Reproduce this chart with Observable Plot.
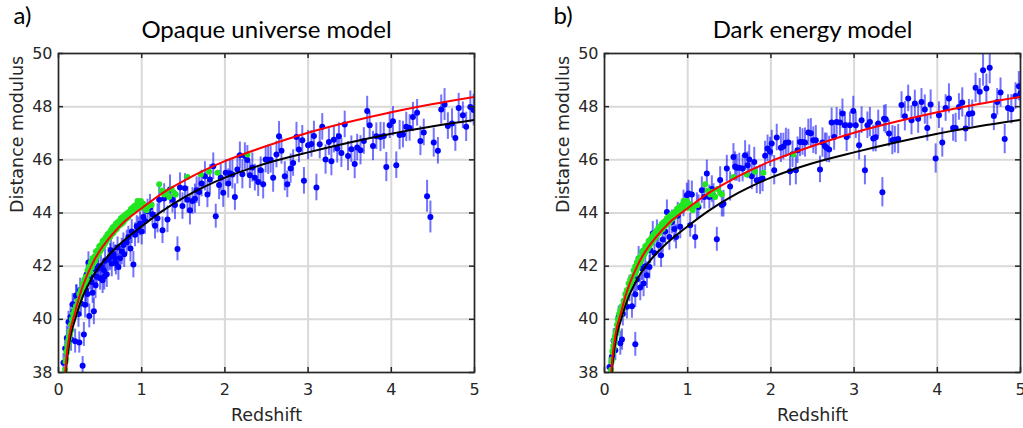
<!DOCTYPE html>
<html><head><meta charset="utf-8">
<script src="https://cdn.jsdelivr.net/npm/d3@7"></script>
<script src="https://cdn.jsdelivr.net/npm/@observablehq/plot@0.6"></script>
<style>
body{margin:0;background:#fff;}
#wrap{position:relative;width:1023px;height:428px;overflow:hidden;background:#fff;}
#pa,#pb{position:absolute;top:0;}
#pa{left:0px}
#pb{left:546px}
</style></head><body><div id="wrap"><div id="pa"></div><div id="pb"></div></div>
<script>
const xTicks = [0, 1, 2, 3, 4, 5];
const yTicks = [38, 40, 42, 44, 46, 48, 50];
const titles = ["Opaque universe model", "Dark energy model"];
const letters = ["a)", "b)"];
const xLabel = "Redshift";
const yLabel = "Distance modulus";

// model curves: [z, mu]
const redCurve = [[0.082,38.0],[0.1,38.7],[0.12,39.15],[0.15,39.7],[0.2,40.27],[0.25,40.85],[0.3,41.32],[0.4,42.05],[0.5,42.6],[0.6,43.02],[0.7,43.38],[0.8,43.7],[1.0,44.18],[1.25,44.75],[1.5,45.2],[1.75,45.6],[2.0,45.95],[2.5,46.52],[3.0,47.02],[3.5,47.43],[4.0,47.79],[4.5,48.1],[5.0,48.37]];
const blackCurve = [[0.09,38.0],[0.1,38.4],[0.12,38.9],[0.15,39.45],[0.2,40.0],[0.25,40.5],[0.3,40.92],[0.4,41.55],[0.5,42.02],[0.6,42.4],[0.7,42.72],[0.8,43.0],[1.0,43.5],[1.25,44.08],[1.5,44.57],[1.75,44.98],[2.0,45.33],[2.5,45.87],[3.0,46.28],[3.5,46.65],[4.0,46.98],[4.5,47.26],[5.0,47.5]];

// supernovae (green): [z, mu]
const green = [[0.08,38.1],[0.085,38.4],[0.09,38.5],[0.095,38.8],[0.10,38.75],[0.105,39.0],[0.11,38.9],[0.115,39.2],[0.12,39.1],[0.125,39.35],[0.13,39.3],[0.135,39.55],[0.14,39.45],[0.15,39.8],[0.155,39.6],[0.16,40.0],[0.17,39.95],[0.175,40.2],[0.18,40.05],[0.19,40.35],[0.2,40.2],[0.21,40.5],[0.22,40.4],[0.23,40.7],[0.24,40.6],[0.25,40.95],[0.26,40.8],[0.27,41.1],[0.28,41.0],[0.29,41.35],[0.30,41.2],[0.31,41.5],[0.32,41.35],[0.33,41.6],[0.34,41.5],[0.35,41.85],[0.36,41.7],[0.37,42.0],[0.38,41.8],[0.39,42.15],[0.40,41.95],[0.41,42.3],[0.42,42.1],[0.43,42.35],[0.44,42.2],[0.45,42.55],[0.46,42.35],[0.47,42.6],[0.48,42.45],[0.49,42.75],[0.50,42.55],[0.51,42.8],[0.52,42.65],[0.53,42.95],[0.54,42.75],[0.55,43.0],[0.56,42.85],[0.57,43.1],[0.58,42.95],[0.59,43.2],[0.60,43.05],[0.61,43.25],[0.62,43.1],[0.63,43.35],[0.64,43.2],[0.65,43.45],[0.66,43.25],[0.67,43.5],[0.68,43.35],[0.69,43.6],[0.70,43.4],[0.71,43.65],[0.72,43.5],[0.73,43.7],[0.74,43.55],[0.75,43.8],[0.76,43.6],[0.77,43.85],[0.78,43.65],[0.79,43.9],[0.80,43.75],[0.81,43.95],[0.82,43.8],[0.83,44.0],[0.84,43.85],[0.85,44.05],[0.86,43.95],[0.87,44.15],[0.88,44.0],[0.89,44.2],[0.90,44.05],[0.91,44.25],[0.92,44.15],[0.93,44.3],[0.94,44.2],[0.95,44.45],[0.96,44.25],[0.97,44.4],[0.98,44.3],[0.99,44.45],[1.0,44.2],[1.02,44.35],[1.04,44.2],[1.06,44.1],[1.08,44.25],[1.12,44.3],[1.21,45.08],[1.24,44.85],[1.27,44.7],[1.30,44.8],[1.33,44.6],[1.36,44.9],[1.39,44.75],[1.41,44.7],[1.55,45.35],[1.71,45.45],[1.81,45.55],[1.91,45.51],[2.27,46.2]];

// quasars / GRBs (blue) panel a: [z, mu, error]
const blueA = [[0.06,38.37,0.35],[0.08,38.9,0.4],[0.10,39.3,0.45],[0.12,39.9,0.4],[0.144,40.09,0.5],[0.15,39.25,0.45],[0.17,40.57,0.4],[0.18,40.3,0.5],[0.20,39.18,0.45],[0.21,40.9,0.4],[0.22,40.84,0.45],[0.24,40.2,0.5],[0.25,39.13,0.4],[0.26,41.1,0.45],[0.27,40.6,0.5],[0.29,38.25,0.35],[0.305,39.43,0.45],[0.31,41.3,0.4],[0.32,40.55,0.5],[0.33,41.1,0.45],[0.34,41.7,0.4],[0.35,40.95,0.5],[0.36,42.14,0.4],[0.37,40.13,0.45],[0.38,41.6,0.5],[0.40,41.4,0.45],[0.41,41.0,0.4],[0.425,40.30,0.5],[0.43,41.9,0.45],[0.445,41.28,0.5],[0.46,41.6,0.45],[0.47,41.9,0.4],[0.48,42.0,0.5],[0.50,41.55,0.45],[0.51,42.0,0.4],[0.53,41.47,0.5],[0.545,41.85,0.45],[0.55,41.6,0.5],[0.56,42.2,0.45],[0.58,41.7,0.5],[0.60,42.25,0.45],[0.62,42.35,0.5],[0.63,42.6,0.4],[0.64,42.1,0.5],[0.66,42.45,0.45],[0.68,42.3,0.5],[0.69,42.12,0.45],[0.71,42.7,0.4],[0.72,41.97,0.5],[0.74,42.3,0.45],[0.76,42.55,0.5],[0.78,42.8,0.45],[0.79,42.45,0.5],[0.82,42.9,0.45],[0.84,43.1,0.4],[0.865,42.66,0.5],[0.88,43.3,0.45],[0.90,42.06,0.5],[0.92,43.18,0.45],[0.94,43.5,0.4],[0.96,43.35,0.5],[0.98,43.6,0.45],[1.0,43.3,0.5],[1.02,43.85,0.45],[1.04,43.7,0.5],[1.07,44.07,0.45],[1.10,44.2,0.5],[1.13,43.95,0.45],[1.16,43.52,0.5],[1.19,43.8,0.55],[1.21,44.5,0.5],[1.25,43.35,0.5],[1.27,44.55,0.55],[1.31,43.76,0.5],[1.34,44.88,0.55],[1.37,44.5,0.5],[1.40,44.3,0.55],[1.43,42.65,0.45],[1.46,44.96,0.55],[1.49,44.26,0.5],[1.52,44.93,0.55],[1.55,44.5,0.5],[1.58,44.1,0.55],[1.61,44.45,0.5],[1.64,44.54,0.55],[1.66,44.86,0.5],[1.69,44.79,0.55],[1.72,45.11,0.5],[1.76,45.38,0.55],[1.79,44.70,0.5],[1.82,45.26,0.55],[1.86,45.76,0.5],[1.89,43.88,0.45],[1.93,45.05,0.55],[1.95,45.33,0.5],[1.98,44.76,0.55],[2.01,45.51,0.5],[2.04,45.11,0.55],[2.06,45.5,0.5],[2.09,45.45,0.55],[2.12,44.60,0.5],[2.15,45.64,0.55],[2.18,46.17,0.5],[2.21,45.46,0.55],[2.24,46.14,0.5],[2.27,45.99,0.55],[2.30,45.42,0.5],[2.33,45.71,0.55],[2.36,45.33,0.5],[2.40,45.17,0.55],[2.43,45.61,0.5],[2.46,45.08,0.55],[2.49,46.01,0.5],[2.52,46.0,0.55],[2.55,46.0,0.5],[2.58,45.33,0.55],[2.62,46.20,0.5],[2.65,46.89,0.55],[2.68,46.34,0.5],[2.72,45.38,0.55],[2.75,45.08,0.5],[2.79,45.67,0.55],[2.82,45.88,0.5],[2.86,46.86,0.55],[2.89,46.39,0.5],[2.93,46.74,0.55],[2.95,45.21,0.5],[3.00,46.55,0.55],[3.04,46.6,0.5],[3.07,46.9,0.55],[3.10,44.96,0.5],[3.14,46.59,0.55],[3.17,47.24,0.5],[3.21,46.01,0.55],[3.25,46.67,0.5],[3.28,45.95,0.55],[3.31,46.76,0.5],[3.35,46.43,0.55],[3.37,46.89,0.5],[3.40,46.26,0.55],[3.44,47.33,0.5],[3.48,46.14,0.55],[3.52,46.40,0.5],[3.56,45.84,0.55],[3.59,46.46,0.5],[3.63,46.36,0.55],[3.67,46.71,0.5],[3.71,47.84,0.55],[3.74,47.30,0.5],[3.78,46.52,0.55],[3.82,46.89,0.5],[3.87,46.86,0.55],[3.91,46.90,0.5],[3.94,45.73,0.55],[3.98,47.30,0.5],[4.02,47.45,0.55],[4.06,45.80,0.5],[4.10,46.93,0.55],[4.14,46.95,0.5],[4.18,47.24,0.55],[4.22,47.2,0.5],[4.26,47.61,0.55],[4.31,47.77,0.5],[4.35,46.71,0.55],[4.39,47.03,0.5],[4.43,44.63,0.6],[4.47,43.85,0.6],[4.51,46.65,0.55],[4.56,46.34,0.5],[4.60,47.89,0.55],[4.64,48.08,0.6],[4.68,47.27,0.5],[4.73,47.37,0.55],[4.77,46.82,0.5],[4.81,47.95,0.55],[4.86,47.68,0.5],[4.90,47.24,0.55],[4.95,47.99,0.6],[4.99,47.87,0.6]];

// quasars / GRBs (blue) panel b: [z, mu, error]
const blueB = [[0.06,38.21,0.35],[0.09,38.6,0.4],[0.11,39.2,0.45],[0.13,38.84,0.4],[0.15,39.6,0.45],[0.17,40.1,0.4],[0.19,39.1,0.45],[0.21,39.24,0.4],[0.22,40.2,0.45],[0.24,40.6,0.4],[0.27,40.47,0.45],[0.30,41.16,0.5],[0.33,40.49,0.45],[0.35,41.4,0.4],[0.37,39.06,0.45],[0.37,40.94,0.5],[0.39,41.5,0.45],[0.41,42.29,0.45],[0.43,41.2,0.5],[0.45,41.91,0.45],[0.47,41.35,0.5],[0.49,42.0,0.45],[0.51,41.66,0.5],[0.54,41.97,0.45],[0.55,42.6,0.5],[0.58,43.23,0.45],[0.60,42.5,0.5],[0.63,43.29,0.45],[0.65,42.8,0.5],[0.68,42.41,0.45],[0.70,43.0,0.5],[0.73,43.3,0.45],[0.75,44.04,0.45],[0.78,43.1,0.5],[0.81,43.66,0.45],[0.84,43.4,0.5],[0.86,43.1,0.45],[0.88,43.9,0.5],[0.91,43.48,0.45],[0.95,44.36,0.5],[0.99,44.67,0.45],[1.01,44.73,0.5],[1.03,43.54,0.45],[1.05,44.7,0.5],[1.09,43.10,0.45],[1.11,44.26,0.5],[1.13,44.23,0.45],[1.17,44.86,0.5],[1.20,44.6,0.45],[1.23,45.49,0.5],[1.26,44.6,0.45],[1.29,44.9,0.5],[1.31,44.65,0.45],[1.35,43.01,0.45],[1.39,45.24,0.5],[1.41,44.3,0.45],[1.43,44.35,0.5],[1.47,45.67,0.5],[1.51,45.0,0.55],[1.55,46.11,0.5],[1.57,45.75,0.55],[1.59,45.7,0.5],[1.62,45.7,0.55],[1.66,45.67,0.5],[1.69,46.17,0.55],[1.72,45.8,0.5],[1.74,46.01,0.55],[1.77,45.38,0.5],[1.80,45.92,0.55],[1.83,45.23,0.5],[1.87,45.25,0.55],[1.90,45.3,0.5],[1.93,46.15,0.55],[1.96,46.43,0.5],[1.99,46.30,0.55],[2.01,46.61,0.5],[2.04,45.61,0.55],[2.07,46.84,0.5],[2.12,46.45,0.55],[2.15,46.5,0.5],[2.18,46.64,0.55],[2.21,46.65,0.5],[2.23,45.57,0.55],[2.26,46.21,0.5],[2.30,45.61,0.55],[2.32,46.36,0.5],[2.35,46.67,0.55],[2.38,46.67,0.5],[2.41,46.65,0.55],[2.45,47.03,0.5],[2.48,47.0,0.55],[2.51,46.74,0.5],[2.54,46.74,0.55],[2.59,45.64,0.5],[2.62,46.65,0.55],[2.65,46.51,0.5],[2.67,46.45,0.55],[2.70,46.39,0.5],[2.73,47.40,0.55],[2.76,46.86,0.5],[2.79,47.42,0.55],[2.83,47.4,0.5],[2.86,47.74,0.55],[2.89,47.3,0.5],[2.91,46.86,0.55],[2.95,47.30,0.5],[2.99,47.84,0.55],[3.02,47.3,0.5],[3.06,46.55,0.55],[3.09,47.49,0.5],[3.13,45.61,0.55],[3.16,47.30,0.5],[3.19,47.42,0.55],[3.23,46.80,0.5],[3.26,46.85,0.55],[3.29,47.37,0.5],[3.34,44.78,0.55],[3.36,47.55,0.5],[3.38,47.53,0.55],[3.42,46.99,0.5],[3.46,46.74,0.55],[3.49,46.76,0.5],[3.53,46.78,0.55],[3.57,48.06,0.5],[3.61,47.64,0.55],[3.65,48.31,0.5],[3.69,47.49,0.55],[3.73,48.12,0.5],[3.77,47.55,0.55],[3.81,48.18,0.5],[3.85,47.89,0.55],[3.88,47.20,0.5],[3.92,48.08,0.55],[3.98,46.05,0.55],[4.02,47.68,0.5],[4.06,46.65,0.55],[4.10,47.95,0.5],[4.14,48.31,0.55],[4.19,47.20,0.5],[4.22,47.2,0.55],[4.26,47.99,0.5],[4.30,48.16,0.55],[4.34,47.18,0.5],[4.38,47.72,0.55],[4.42,47.75,0.5],[4.46,48.71,0.55],[4.51,48.56,0.5],[4.55,49.37,0.6],[4.59,48.68,0.55],[4.63,49.46,0.6],[4.68,47.65,0.55],[4.72,48.18,0.5],[4.76,48.53,0.55],[4.81,46.78,0.55],[4.85,47.95,0.5],[4.89,47.90,0.55],[4.94,48.40,0.5],[4.98,48.77,0.55],[5.0,48.5,0.5]];

const INK = "#262626";
const AXFONT = "'DejaVu Sans', Verdana, sans-serif";
function panel(i, blue, width, marginRight, letterDx) {
  const mL = 58, mT = 53, mB = 56, H = 428;
  const fw = width - mL - marginRight, fh = H - mT - mB;
  return Plot.plot({
    width, height: H, marginLeft: mL, marginRight, marginTop: mT, marginBottom: mB,
    x: {domain: [0, 5], ticks: xTicks, tickFormat: d => String(d), tickSize: 0, tickPadding: 11, label: null},
    y: {domain: [38, 50], ticks: yTicks, tickFormat: d => String(d), tickSize: 0, tickPadding: 6, label: null},
    style: {fontFamily: AXFONT, fontSize: "16px", color: INK, background: "white", overflow: "visible"},
    marks: [
      Plot.gridX(xTicks, {stroke: "#d9d9d9", strokeOpacity: 1, strokeWidth: 2}),
      Plot.gridY(yTicks, {stroke: "#d9d9d9", strokeOpacity: 1, strokeWidth: 2}),
      Plot.ruleX(blue, {x: d => d[0], y1: d => d[1] - d[2], y2: d => d[1] + d[2], stroke: "#0000ff", strokeOpacity: 0.55, strokeWidth: 2, clip: true}),
      Plot.dot(blue, {x: d => d[0], y: d => d[1], r: 3, fill: "#0000ff", clip: true}),
      Plot.dot(green, {x: d => d[0], y: d => d[1], r: 3, fill: "#22e622", clip: true}),
      Plot.line(blackCurve, {x: d => d[0], y: d => d[1], stroke: "#000", strokeWidth: 2, curve: "catmull-rom", clip: true}),
      Plot.line(redCurve, {x: d => d[0], y: d => d[1], stroke: "#ff0000", strokeWidth: 2, curve: "catmull-rom", clip: true}),
      Plot.tickX(xTicks, {x: d => d, insetTop: fh - 5, stroke: INK, strokeWidth: 1.5}),
      Plot.tickX(xTicks, {x: d => d, insetBottom: fh - 5, stroke: INK, strokeWidth: 1.5}),
      Plot.tickY(yTicks, {y: d => d, insetRight: fw - 5, stroke: INK, strokeWidth: 1.5}),
      Plot.tickY(yTicks, {y: d => d, insetLeft: fw - 5, stroke: INK, strokeWidth: 1.5}),
      Plot.frame({stroke: INK, strokeWidth: 1.6}),
      Plot.text([titles[i]], {frameAnchor: "top", lineAnchor: "middle", dy: -23, fontSize: 24, fontFamily: "Lato, 'Open Sans', sans-serif", fill: "#000"}),
      Plot.text([letters[i]], {frameAnchor: "top-left", lineAnchor: "middle", textAnchor: "start", dx: letterDx, dy: -37, fontSize: 24, fontFamily: "Lato, 'Open Sans', sans-serif", fill: "#000"}),
      Plot.text([xLabel], {frameAnchor: "bottom", lineAnchor: "middle", dy: 43, fontSize: 17.5, fontFamily: AXFONT, fill: INK}),
      Plot.text([yLabel], {frameAnchor: "left", lineAnchor: "middle", dx: -41, rotate: -90, fontSize: 17.5, fontFamily: AXFONT, fill: INK})
    ]
  });
}
document.getElementById("pa").append(panel(0, blueA, 500, 26, -45));
document.getElementById("pb").append(panel(1, blueB, 477, 3, -51));
</script></body></html>
